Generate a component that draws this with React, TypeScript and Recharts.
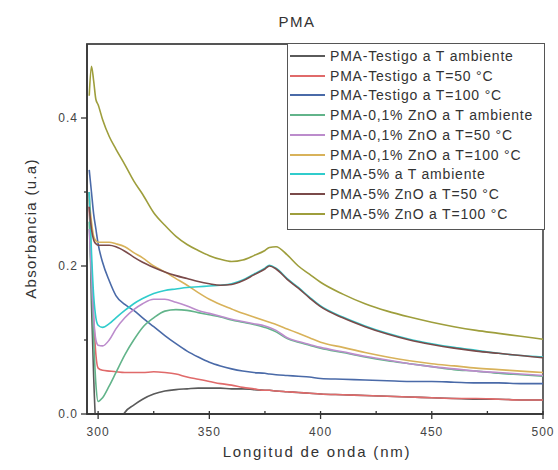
import { LineChart, Line, XAxis, YAxis, Legend, ReferenceArea } from 'recharts';

const wavelength = [296, 297, 298, 299, 300, 302, 305, 308, 312, 316, 320, 325, 330, 335, 340, 345, 350, 355, 360, 365, 370, 375, 377, 380, 385, 390, 395, 400, 410, 420, 430, 440, 450, 460, 470, 480, 490, 500];

const testigoAmb = [0.30, 0.15, 0.05, -0.02, -0.05, -0.06, -0.05, -0.025, 0.002, 0.012, 0.02, 0.027, 0.031, 0.033, 0.034, 0.035, 0.035, 0.035, 0.034, 0.034, 0.033, 0.032, 0.032, 0.031, 0.030, 0.029, 0.028, 0.027, 0.026, 0.025, 0.024, 0.023, 0.022, 0.021, 0.020, 0.020, 0.019, 0.019];
const testigo50 = [0.28, 0.20, 0.13, 0.08, 0.062, 0.059, 0.058, 0.057, 0.056, 0.056, 0.056, 0.057, 0.056, 0.054, 0.05, 0.047, 0.044, 0.041, 0.039, 0.036, 0.034, 0.032, 0.032, 0.031, 0.030, 0.029, 0.028, 0.027, 0.026, 0.025, 0.024, 0.023, 0.022, 0.021, 0.021, 0.020, 0.019, 0.019];
const testigo100 = [0.33, 0.30, 0.27, 0.25, 0.23, 0.205, 0.18, 0.16, 0.148, 0.14, 0.13, 0.118, 0.106, 0.095, 0.085, 0.077, 0.07, 0.065, 0.061, 0.058, 0.056, 0.055, 0.054, 0.053, 0.052, 0.051, 0.05, 0.048, 0.047, 0.046, 0.045, 0.044, 0.044, 0.043, 0.042, 0.042, 0.041, 0.041];
const zno01Amb = [0.26, 0.18, 0.10, 0.04, 0.017, 0.022, 0.038, 0.056, 0.08, 0.10, 0.117, 0.13, 0.139, 0.141, 0.14, 0.137, 0.134, 0.131, 0.127, 0.124, 0.121, 0.117, 0.115, 0.111, 0.102, 0.097, 0.093, 0.089, 0.083, 0.077, 0.072, 0.068, 0.064, 0.06, 0.058, 0.055, 0.053, 0.051];
const zno01_50 = [0.25, 0.19, 0.13, 0.10, 0.093, 0.092, 0.10, 0.115, 0.13, 0.141, 0.149, 0.155, 0.155, 0.151, 0.146, 0.14, 0.136, 0.132, 0.128, 0.125, 0.122, 0.119, 0.117, 0.113, 0.103, 0.098, 0.094, 0.09, 0.084, 0.078, 0.073, 0.068, 0.064, 0.061, 0.058, 0.056, 0.054, 0.052];
const zno01_100 = [0.29, 0.26, 0.24, 0.234, 0.232, 0.232, 0.232, 0.23, 0.226, 0.218, 0.211, 0.2, 0.192, 0.183, 0.174, 0.164, 0.155, 0.148, 0.142, 0.136, 0.131, 0.126, 0.124, 0.121, 0.115, 0.109, 0.103, 0.097, 0.09, 0.083, 0.077, 0.072, 0.068, 0.065, 0.062, 0.06, 0.058, 0.056];
const zno5Amb = [0.30, 0.22, 0.16, 0.13, 0.12, 0.117, 0.122, 0.13, 0.14, 0.149, 0.156, 0.163, 0.167, 0.169, 0.171, 0.172, 0.173, 0.174, 0.176, 0.181, 0.189, 0.197, 0.201, 0.197, 0.183, 0.171, 0.158, 0.146, 0.131, 0.119, 0.109, 0.101, 0.095, 0.09, 0.086, 0.082, 0.079, 0.077];
const zno5_50 = [0.28, 0.25, 0.235, 0.23, 0.228, 0.228, 0.228, 0.226, 0.22, 0.212, 0.205, 0.198, 0.192, 0.187, 0.183, 0.179, 0.176, 0.174, 0.175, 0.18, 0.188, 0.196, 0.2, 0.196, 0.182, 0.17, 0.157, 0.145, 0.13, 0.118, 0.108, 0.1, 0.094, 0.089, 0.085, 0.082, 0.079, 0.076];
const zno5_100 = [0.43, 0.47, 0.45, 0.425, 0.418, 0.398, 0.375, 0.358, 0.337, 0.315, 0.297, 0.272, 0.255, 0.24, 0.229, 0.221, 0.214, 0.209, 0.206, 0.208, 0.214, 0.221, 0.225, 0.226, 0.215, 0.2, 0.189, 0.178, 0.162, 0.149, 0.139, 0.131, 0.124, 0.118, 0.113, 0.109, 0.105, 0.101];

const seriesNames = [
  'PMA-Testigo a T ambiente',
  'PMA-Testigo a T=50 °C',
  'PMA-Testigo a T=100 °C',
  'PMA-0,1% ZnO a T ambiente',
  'PMA-0,1% ZnO a T=50 °C',
  'PMA-0,1% ZnO a T=100 °C',
  'PMA-5% a T ambiente',
  'PMA-5% ZnO a T=50 °C',
  'PMA-5% ZnO a T=100 °C',
];
const seriesValues = [testigoAmb, testigo50, testigo100, zno01Amb, zno01_50, zno01_100, zno5Amb, zno5_50, zno5_100];
const seriesColors = ['#5a5a5a', '#e06a6a', '#4a6aa8', '#62b48a', '#bc8ccc', '#d8b25a', '#30cccc', '#7a4a4a', '#9e9e3c'];

const xTicks = [300, 325, 350, 375, 400, 425, 450, 475, 500];
const yTicks = [0, 0.1, 0.2, 0.3, 0.4];

const data = wavelength.map((w, i) => {
  const row: any = { w };
  seriesValues.forEach((s, j) => { row['s' + j] = s[i]; });
  return row;
});

const font = '"Liberation Sans", Arial, sans-serif';

function XTick({ x, y, payload }: any) {
  const major = payload.value % 50 === 0;
  return (
    <g>
      <line x1={x} x2={x} y1={y - 3} y2={y + (major ? 5 : 0)} stroke="#333" strokeWidth={1.3} />
      {major && (
        <text x={x} y={y + 22} textAnchor="middle" fontSize={12} letterSpacing={1} fill="#444" fontFamily={font}>
          {payload.value}
        </text>
      )}
    </g>
  );
}

function YTick({ x, y, payload }: any) {
  const major = Math.round(payload.value * 10) % 2 === 0;
  return (
    <g>
      <line x1={x - (major ? 6 : 3)} x2={x} y1={y} y2={y} stroke="#333" strokeWidth={1.3} />
      {major && (
        <text x={x - 9} y={y + 4} textAnchor="end" fontSize={12} letterSpacing={1} fill="#444" fontFamily={font}>
          {payload.value.toFixed(1)}
        </text>
      )}
    </g>
  );
}

function LegendBox() {
  return (
    <div style={{ border: '1.5px solid #555', background: '#fff', padding: '2px 0 5px 0', width: 256, fontFamily: font }}>
      {seriesNames.map((n, i) => (
        <div key={n} style={{ display: 'flex', alignItems: 'center', height: 19.75 }}>
          <svg width={42} height={10} style={{ flex: 'none' }}>
            <line x1={2} x2={37} y1={5} y2={5} stroke={seriesColors[i]} strokeWidth={2} />
          </svg>
          <span style={{ fontSize: 14, letterSpacing: 0.8, color: '#333', whiteSpace: 'nowrap' }}>{n}</span>
        </div>
      ))}
    </div>
  );
}

export default function App() {
  return (
    <div style={{ position: 'absolute', left: 0, top: 0, width: 558, height: 470, background: '#fff' }}>
      <div style={{ position: 'absolute', left: 247, width: 100, top: 13, textAlign: 'center', fontFamily: font, fontSize: 15, letterSpacing: 1.5, color: '#333' }}>
        PMA
      </div>
      <LineChart width={558} height={470} data={data} margin={{ top: 44, right: 15, left: 47, bottom: 26 }}>
        <XAxis
          dataKey="w"
          type="number"
          domain={[295, 500]}
          ticks={xTicks}
          tick={<XTick />}
          tickLine={false}
          tickSize={0}
          tickMargin={0}
          height={30}
          axisLine={{ stroke: '#333', strokeWidth: 1.5 }}
        />
        <YAxis
          type="number"
          domain={[0, 0.5]}
          allowDataOverflow
          ticks={yTicks}
          tick={<YTick />}
          tickLine={false}
          tickSize={0}
          tickMargin={0}
          width={40}
          axisLine={{ stroke: '#333', strokeWidth: 1.5 }}
        />
        <ReferenceArea x1={295} x2={500} y1={0} y2={0.5} fill="none" stroke="#555" strokeWidth={1.8} />
        <Legend
          layout="vertical"
          align="center"
          verticalAlign="middle"
          content={<LegendBox />}
          wrapperStyle={{ left: 287, top: 43, width: 259 }}
        />
        {seriesNames.map((n, i) => (
          <Line
            key={n}
            type="monotone"
            dataKey={'s' + i}
            name={n}
            stroke={seriesColors[i]}
            strokeWidth={1.6}
            dot={false}
            isAnimationActive={false}
          />
        ))}
      </LineChart>
      <div style={{ position: 'absolute', left: 117, width: 400, top: 443, textAlign: 'center', fontFamily: font, fontSize: 15, letterSpacing: 1.8, color: '#333' }}>
        Longitud de onda (nm)
      </div>
      <div style={{ position: 'absolute', left: 30, top: 230, width: 0, height: 0 }}>
        <div style={{ position: 'absolute', left: -100, top: -10, width: 200, textAlign: 'center', transform: 'rotate(-90deg)', fontFamily: font, fontSize: 15, letterSpacing: 1.3, color: '#333', whiteSpace: 'nowrap' }}>
          Absorbancia (u.a)
        </div>
      </div>
    </div>
  );
}
